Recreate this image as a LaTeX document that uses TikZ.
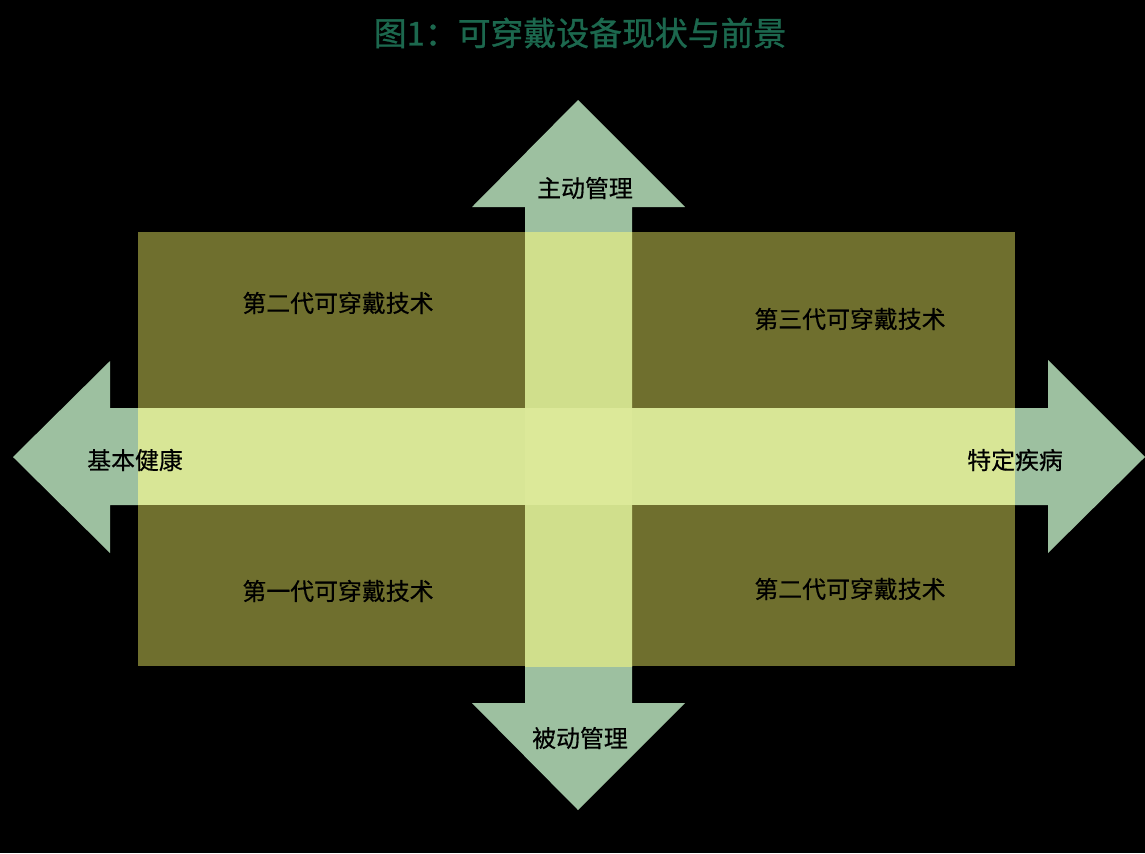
\documentclass[tikz,border=0pt]{standalone}
\usepackage{fontspec}
\newfontfamily\cjk[FakeBold=0.5]{Noto Sans CJK SC}
\newfontfamily\cjktitle[FakeBold=1]{Noto Sans CJK SC}
\usepackage{tikz}
\usetikzlibrary{positioning}

\definecolor{arrowgreen}{RGB}{157,192,160}
\definecolor{olive}{RGB}{111,111,46}
\definecolor{overlapv}{RGB}{208,223,140}
\definecolor{overlaph}{RGB}{216,230,150}
\definecolor{crosscore}{RGB}{220,233,153}
\definecolor{titlegreen}{RGB}{28,104,78}

\begin{document}
\begin{tikzpicture}[
      x=0.02cm, y=-0.02cm,
      lbl/.style={font=\cjk\fontsize{13.6}{16}\selectfont, text=black, inner sep=0pt},
      vertarrow/.style={insert path={(578,100) -- (685,207) -- (632,207) -- (632,703) -- (685,703)
        -- (578,810) -- (472,703) -- (525,703) -- (525,207) -- (472,207) -- cycle}},
      horzarrow/.style={insert path={(13,457) -- (110,361) -- (110,408) -- (1048,408) -- (1048,360)
        -- (1145,457) -- (1048,553) -- (1048,505) -- (110,505) -- (110,553) -- cycle}}
    ]
      % Background and frame
      \fill[black] (0,0) rectangle (1145,853);
      \useasboundingbox (0,0) rectangle (1145,853);

      % Title
      \node[font=\cjktitle\fontsize{18.7}{22}\selectfont, text=titlegreen] (title) at (580,33) {图1：可穿戴设备现状与前景};

      % Cross arrows
      \fill[arrowgreen] [vertarrow];
      \fill[arrowgreen] [horzarrow];

      % Quadrant field
      \fill[olive] (138,232) rectangle (1015,666);
      \begin{scope}
        \clip (138,232) rectangle (1015,666);
        \fill[overlapv] [vertarrow];
        \fill[overlaph] (138,408) rectangle (1015,505);
        \fill[crosscore] (525,408) rectangle (632,505);
      \end{scope}

      % Axis labels
      \node[lbl] (up) at (585,188) {主动管理};
      \node[lbl] (down) at (580,738) {被动管理};
      \node[lbl] (left) at (135,460) {基本健康};
      \node[lbl] (right) at (1015,460) {特定疾病};

      % Quadrant labels
      \node[lbl] (q2) at (338,303) {第二代可穿戴技术};
      \node[lbl] (q3) at (850,319) {第三代可穿戴技术};
      \node[lbl] (q1) at (338,591) {第一代可穿戴技术};
      \node[lbl] (q4) at (850,589) {第二代可穿戴技术};
    \end{tikzpicture}
\end{document}
